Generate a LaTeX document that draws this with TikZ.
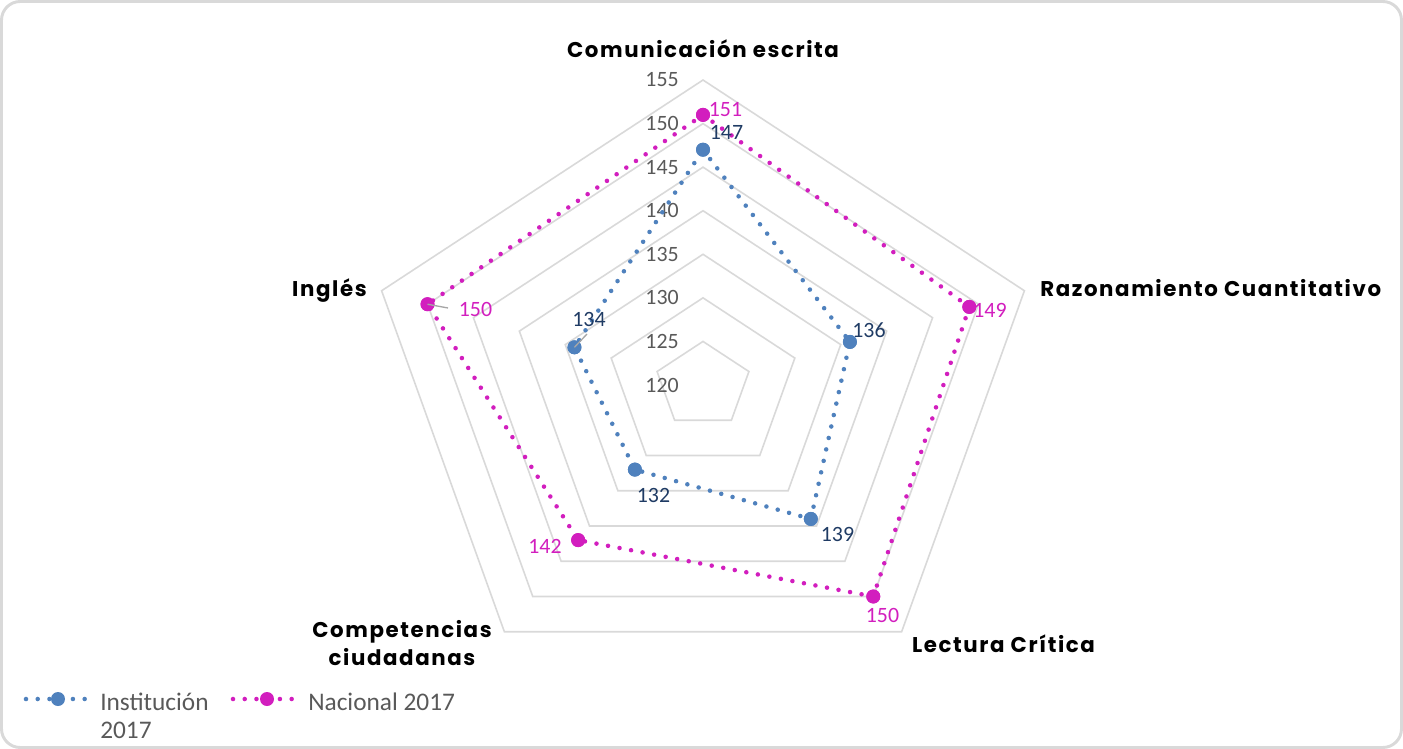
\documentclass[tikz,border=0pt]{standalone}
\usepackage{fontspec}
\setmainfont{Carlito}
\newfontfamily\axfont{Poppins}[LetterSpace=7.5]
\definecolor{instc}{HTML}{4F81BD}
\definecolor{nacc}{HTML}{D21EBE}
\definecolor{navy}{HTML}{1F3B64}
\definecolor{gridc}{HTML}{D9D9D9}
\definecolor{numc}{HTML}{595959}
\definecolor{leadc}{HTML}{A6A6A6}
\begin{document}
\begin{tikzpicture}[x=0.75pt,y=-0.75pt,
  gridline/.style={draw=gridc, line width=1.2pt},
  seriesline/.style={line width=3.4pt, line cap=round, dash pattern=on 0pt off 8.8pt},
  instline/.style={seriesline, draw=instc},
  nacline/.style={seriesline, draw=nacc},
  imark/.style={circle, fill=instc, inner sep=0pt, minimum size=10.5pt},
  nmark/.style={circle, fill=nacc, inner sep=0pt, minimum size=10.5pt},
  axlab/.style={font=\axfont\bfseries\fontsize{16}{21}\selectfont, text=black, inner sep=0pt, align=center},
  numlab/.style={font=\fontsize{16.4}{19}\selectfont, text=numc, inner sep=0pt},
  ilab/.style={font=\fontsize{16.4}{19}\selectfont, text=navy, inner sep=0pt},
  nlab/.style={font=\fontsize{16.4}{19}\selectfont, text=nacc, inner sep=0pt},
  leglab/.style={font=\fontsize{19}{21}\selectfont, text=numc, inner sep=0pt, align=left},
  leader/.style={draw=leadc, line width=1pt},
  framebox/.style={draw=gridc, line width=2.2pt, rounded corners=14pt}
]
\useasboundingbox (0,0) rectangle (1403,749);
\draw[framebox] (1.5,1.5) rectangle (1401.5,747.5);

% grid coordinates
\foreach \k/\a in {1/90,2/18,3/-54,4/-126,5/162}{
  \foreach \v in {125,130,...,155}{
    \coordinate (g\v-\k) at ({703+1.108*(\v-120)*8.714*cos(\a)},{385-(\v-120)*8.714*sin(\a)});
  }
}
\foreach \v in {125,130,...,155}{
  \draw[gridline] (g\v-1) -- (g\v-2) -- (g\v-3) -- (g\v-4) -- (g\v-5) -- cycle;
}

% axis value labels
\foreach \v in {120,125,...,155}{
  \node[numlab, anchor=east] (t\v) at (679,{385-(\v-120)*8.714}) {\v};
}

% data points
\foreach \k/\a/\vi/\vn in {1/90/147/151, 2/18/136/149, 3/-54/139/150, 4/-126/132/142, 5/162/134/150}{
  \coordinate (ip\k) at ({703+1.108*(\vi-120)*8.714*cos(\a)},{385-(\vi-120)*8.714*sin(\a)});
  \coordinate (np\k) at ({703+1.108*(\vn-120)*8.714*cos(\a)},{385-(\vn-120)*8.714*sin(\a)});
}
\foreach \k in {1,...,5}{
  \node[imark] (I\k) at (ip\k) {};
  \node[nmark] (N\k) at (np\k) {};
}
\draw[instline] (I1.center) -- (I2.center) -- (I3.center) -- (I4.center) -- (I5.center) -- cycle;
\draw[nacline] (N1.center) -- (N2.center) -- (N3.center) -- (N4.center) -- (N5.center) -- cycle;
\foreach \k in {1,...,5}{
  \fill[instc] (I\k.center) circle (5.25pt);
  \fill[nacc] (N\k.center) circle (5.25pt);
}

% leader lines
\coordinate (ldI) at (587,334);
\coordinate (ldN) at (448,308);
\draw[leader] (I5.center) -- (ldI);
\draw[leader] (N5.center) -- (ldN);

% data labels
\node[ilab] (lI1) at (726.5,132) {147};
\node[ilab] (lI2) at (869,330) {136};
\node[ilab] (lI3) at (837.5,534.5) {139};
\node[ilab] (lI4) at (653.5,495) {132};
\node[ilab] (lI5) at (589,319) {134};
\node[nlab] (lN1) at (725.5,109.5) {151};
\node[nlab] (lN2) at (990,310) {149};
\node[nlab] (lN3) at (882.5,615.5) {150};
\node[nlab] (lN4) at (545,546.5) {142};
\node[nlab] (lN5) at (475.5,309) {150};

% axis labels
\node[axlab, anchor=base] (a1) at (703,58) {Comunicación escrita};
\node[axlab, anchor=base west] (a2) at (1040,296) {Razonamiento Cuantitativo};
\node[axlab, anchor=base] (a3) at (1003.5,652) {Lectura Crítica};
\node[axlab, anchor=base] (a4) at (402,665) {Competencias\\ciudadanas};
\node[axlab, anchor=base east] (a5) at (367,296) {Inglés};

% legend
\coordinate (lgIa) at (26,699);
\coordinate (lgIb) at (87,699);
\coordinate (lgNa) at (233,699);
\coordinate (lgNb) at (294,699);
\draw[instline] (lgIa) -- (lgIb);
\draw[nacline] (lgNa) -- (lgNb);
\node[imark] (lgI) at (58,699) {};
\node[nmark] (lgN) at (267,699) {};
\node[leglab, anchor=base west] (lgIt) at (100,738) {Institución\\2017};
\node[leglab, anchor=base west] (lgNt) at (308,710) {Nacional 2017};
\end{tikzpicture}
\end{document}
